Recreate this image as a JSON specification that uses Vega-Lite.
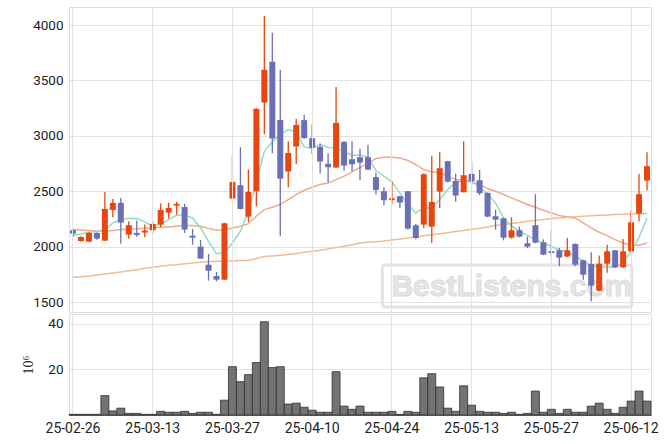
{
  "$schema": "https://vega.github.io/schema/vega-lite/v6.json",
  "background": "white",
  "padding": {"left": 21, "top": 6, "right": 10, "bottom": 5},
  "spacing": 0,
  "config": {
    "view": {"stroke": "#dddddd"},
    "font": "Roboto",
    "axis": {"labelFont": "Roboto", "labelFontSize": 13.5, "labelColor": "#222222", "gridColor": "#e2e2e2", "ticks": false, "domain": false, "labelPadding": 6}
  },
  "datasets": {
    "p": [
      {"d":"25-02-26","o":2148,"h":2160,"l":2087,"c":2118,"v":0.3,"m5":2102,"m20":2154,"m60":1723},
      {"d":"25-02-27","o":2051,"h":2093,"l":2045,"c":2087,"v":0.3,"m5":2115,"m20":2150,"m60":1729},
      {"d":"25-02-28","o":2045,"h":2130,"l":2040,"c":2124,"v":0.3,"m5":2130,"m20":2145,"m60":1735},
      {"d":"25-03-04","o":2124,"h":2130,"l":2063,"c":2072,"v":0.3,"m5":2139,"m20":2139,"m60":1744},
      {"d":"25-03-05","o":2054,"h":2494,"l":2050,"c":2340,"v":8.5,"m5":2148,"m20":2139,"m60":1753},
      {"d":"25-03-06","o":2331,"h":2431,"l":2265,"c":2395,"v":1.8,"m5":2214,"m20":2145,"m60":1762},
      {"d":"25-03-07","o":2395,"h":2440,"l":2027,"c":2217,"v":3.0,"m5":2244,"m20":2154,"m60":1771},
      {"d":"25-03-10","o":2108,"h":2229,"l":2072,"c":2193,"v":0.7,"m5":2253,"m20":2158,"m60":1783},
      {"d":"25-03-11","o":2124,"h":2235,"l":2090,"c":2106,"v":0.7,"m5":2256,"m20":2160,"m60":1792},
      {"d":"25-03-12","o":2127,"h":2199,"l":2084,"c":2145,"v":0.3,"m5":2223,"m20":2165,"m60":1804},
      {"d":"25-03-13","o":2148,"h":2226,"l":2121,"c":2205,"v":0.3,"m5":2184,"m20":2169,"m60":1813},
      {"d":"25-03-14","o":2199,"h":2389,"l":2175,"c":2331,"v":1.6,"m5":2199,"m20":2175,"m60":1822},
      {"d":"25-03-17","o":2307,"h":2395,"l":2253,"c":2349,"v":1.2,"m5":2244,"m20":2178,"m60":1831},
      {"d":"25-03-18","o":2371,"h":2404,"l":2289,"c":2386,"v":1.2,"m5":2283,"m20":2184,"m60":1837},
      {"d":"25-03-19","o":2358,"h":2386,"l":2124,"c":2154,"v":1.6,"m5":2283,"m20":2190,"m60":1846},
      {"d":"25-03-20","o":2099,"h":2160,"l":2018,"c":2081,"v":0.7,"m5":2259,"m20":2190,"m60":1852},
      {"d":"25-03-21","o":2000,"h":2060,"l":1890,"c":1892,"v":1.2,"m5":2169,"m20":2184,"m60":1858},
      {"d":"25-03-24","o":1837,"h":1934,"l":1693,"c":1783,"v":1.2,"m5":2048,"m20":2165,"m60":1864},
      {"d":"25-03-25","o":1735,"h":1771,"l":1687,"c":1702,"v":0.3,"m5":1934,"m20":2148,"m60":1868},
      {"d":"25-03-26","o":1702,"h":2215,"l":1697,"c":2211,"v":6.5,"m5":1952,"m20":2150,"m60":1871},
      {"d":"25-03-27","o":2434,"h":2822,"l":2422,"c":2584,"v":21.2,"m5":2033,"m20":2169,"m60":1871},
      {"d":"25-03-28","o":2554,"h":2898,"l":2335,"c":2340,"v":14.6,"m5":2139,"m20":2184,"m60":1874},
      {"d":"25-03-31","o":2271,"h":2696,"l":2223,"c":2494,"v":17.7,"m5":2319,"m20":2208,"m60":1877},
      {"d":"25-04-01","o":2500,"h":3250,"l":2364,"c":3244,"v":23.0,"m5":2575,"m20":2274,"m60":1892},
      {"d":"25-04-02","o":3301,"h":4081,"l":3015,"c":3596,"v":40.9,"m5":2861,"m20":2334,"m60":1910},
      {"d":"25-04-03","o":3669,"h":3931,"l":2843,"c":2976,"v":20.8,"m5":2946,"m20":2355,"m60":1916},
      {"d":"25-04-04","o":3142,"h":3596,"l":2093,"c":2614,"v":21.2,"m5":3012,"m20":2380,"m60":1922},
      {"d":"25-04-07","o":2678,"h":2952,"l":2536,"c":2846,"v":4.8,"m5":3057,"m20":2425,"m60":1928},
      {"d":"25-04-08","o":2904,"h":3151,"l":2747,"c":3099,"v":5.2,"m5":3033,"m20":2470,"m60":1937},
      {"d":"25-04-09","o":3142,"h":3190,"l":2975,"c":2979,"v":3.4,"m5":2898,"m20":2509,"m60":1949},
      {"d":"25-04-10","o":2979,"h":3105,"l":2837,"c":2892,"v":2.1,"m5":2889,"m20":2536,"m60":1958},
      {"d":"25-04-11","o":2901,"h":2931,"l":2660,"c":2768,"v":1.2,"m5":2922,"m20":2560,"m60":1967},
      {"d":"25-04-14","o":2747,"h":2843,"l":2581,"c":2717,"v":1.2,"m5":2895,"m20":2575,"m60":1979},
      {"d":"25-04-15","o":2714,"h":3440,"l":2710,"c":3117,"v":19.0,"m5":2892,"m20":2605,"m60":1991},
      {"d":"25-04-16","o":2946,"h":2952,"l":2684,"c":2732,"v":3.9,"m5":2856,"m20":2636,"m60":2003},
      {"d":"25-04-17","o":2789,"h":2952,"l":2681,"c":2744,"v":2.5,"m5":2825,"m20":2675,"m60":2018},
      {"d":"25-04-18","o":2807,"h":2883,"l":2599,"c":2759,"v":3.9,"m5":2828,"m20":2714,"m60":2033},
      {"d":"25-04-21","o":2807,"h":2919,"l":2690,"c":2696,"v":1.2,"m5":2807,"m20":2756,"m60":2039},
      {"d":"25-04-22","o":2627,"h":2666,"l":2470,"c":2512,"v":1.2,"m5":2687,"m20":2795,"m60":2045},
      {"d":"25-04-23","o":2500,"h":2536,"l":2374,"c":2419,"v":1.2,"m5":2636,"m20":2807,"m60":2051},
      {"d":"25-04-24","o":2422,"h":2590,"l":2386,"c":2437,"v":1.6,"m5":2584,"m20":2807,"m60":2060},
      {"d":"25-04-25","o":2455,"h":2458,"l":2349,"c":2398,"v":0.3,"m5":2485,"m20":2801,"m60":2069},
      {"d":"25-04-28","o":2500,"h":2503,"l":2154,"c":2163,"v":1.6,"m5":2380,"m20":2777,"m60":2078},
      {"d":"25-04-29","o":2193,"h":2205,"l":2066,"c":2078,"v":1.2,"m5":2304,"m20":2741,"m60":2090},
      {"d":"25-04-30","o":2199,"h":2660,"l":2169,"c":2654,"v":16.3,"m5":2349,"m20":2696,"m60":2099},
      {"d":"25-05-02","o":2181,"h":2819,"l":2033,"c":2404,"v":18.1,"m5":2349,"m20":2675,"m60":2108},
      {"d":"25-05-07","o":2497,"h":2855,"l":2346,"c":2708,"v":12.3,"m5":2425,"m20":2666,"m60":2117},
      {"d":"25-05-08","o":2771,"h":2775,"l":2580,"c":2587,"v":3.0,"m5":2515,"m20":2636,"m60":2126},
      {"d":"25-05-09","o":2593,"h":2657,"l":2407,"c":2461,"v":1.6,"m5":2581,"m20":2605,"m60":2136},
      {"d":"25-05-12","o":2491,"h":2952,"l":2488,"c":2645,"v":12.8,"m5":2596,"m20":2596,"m60":2145},
      {"d":"25-05-13","o":2657,"h":2768,"l":2560,"c":2590,"v":4.3,"m5":2590,"m20":2584,"m60":2157},
      {"d":"25-05-14","o":2599,"h":2693,"l":2464,"c":2482,"v":1.6,"m5":2536,"m20":2560,"m60":2166},
      {"d":"25-05-15","o":2485,"h":2490,"l":2265,"c":2271,"v":1.2,"m5":2470,"m20":2524,"m60":2178},
      {"d":"25-05-16","o":2274,"h":2334,"l":2154,"c":2244,"v":1.2,"m5":2395,"m20":2500,"m60":2190},
      {"d":"25-05-19","o":2256,"h":2259,"l":2057,"c":2081,"v":0.7,"m5":2259,"m20":2470,"m60":2199},
      {"d":"25-05-20","o":2081,"h":2265,"l":2072,"c":2148,"v":1.2,"m5":2187,"m20":2440,"m60":2208},
      {"d":"25-05-21","o":2148,"h":2181,"l":2084,"c":2090,"v":0.3,"m5":2139,"m20":2410,"m60":2217},
      {"d":"25-05-22","o":2030,"h":2090,"l":1988,"c":2000,"v":0.7,"m5":2102,"m20":2380,"m60":2229},
      {"d":"25-05-23","o":2193,"h":2473,"l":2030,"c":2036,"v":10.5,"m5":2063,"m20":2355,"m60":2238},
      {"d":"25-05-26","o":2039,"h":2066,"l":1922,"c":1928,"v":1.2,"m5":2033,"m20":2328,"m60":2244},
      {"d":"25-05-27","o":1958,"h":2148,"l":1904,"c":1943,"v":2.5,"m5":2003,"m20":2304,"m60":2253},
      {"d":"25-05-28","o":1967,"h":1988,"l":1822,"c":1901,"v":0.7,"m5":1967,"m20":2280,"m60":2259},
      {"d":"25-05-29","o":1910,"h":2078,"l":1904,"c":1967,"v":2.5,"m5":1958,"m20":2268,"m60":2265},
      {"d":"25-05-30","o":2024,"h":2030,"l":1822,"c":1837,"v":1.2,"m5":1913,"m20":2259,"m60":2270},
      {"d":"25-06-02","o":1877,"h":1880,"l":1702,"c":1747,"v":1.2,"m5":1874,"m20":2214,"m60":2274},
      {"d":"25-06-04","o":1843,"h":1949,"l":1506,"c":1648,"v":3.9,"m5":1828,"m20":2169,"m60":2279},
      {"d":"25-06-05","o":1602,"h":1919,"l":1598,"c":1846,"v":5.2,"m5":1819,"m20":2130,"m60":2283},
      {"d":"25-06-09","o":1846,"h":2018,"l":1765,"c":1958,"v":2.5,"m5":1816,"m20":2099,"m60":2286},
      {"d":"25-06-10","o":1967,"h":1970,"l":1810,"c":1813,"v":0.7,"m5":1813,"m20":2063,"m60":2289},
      {"d":"25-06-11","o":1813,"h":2069,"l":1810,"c":1958,"v":3.4,"m5":1853,"m20":2033,"m60":2292},
      {"d":"25-06-12","o":1958,"h":2325,"l":1955,"c":2220,"v":6.1,"m5":1958,"m20":2012,"m60":2295},
      {"d":"25-06-13","o":2298,"h":2657,"l":2229,"c":2473,"v":10.5,"m5":2084,"m20":2012,"m60":2297},
      {"d":"25-06-16","o":2596,"h":2852,"l":2506,"c":2726,"v":6.1,"m5":2259,"m20":2033,"m60":2298}
    ],
    "wm": [
      {"d":"25-04-23","d2":"25-06-12","lo":1455,"hi":1834,"mid":1640,"tx":"25-05-20","label":"BestListens.com"}
    ]
  },
  "vconcat": [
    {
      "width": 582,
      "height": 305,
      "data": {"name": "p"},
      "encoding": {
        "x": {
          "field": "d", "type": "ordinal", "sort": "ascending",
          "scale": {"paddingInner": 0, "paddingOuter": 0},
          "axis": {"labels": false, "title": null, "grid": true, "bandPosition": 0.5,
                   "values": ["25-02-26","25-03-13","25-03-27","25-04-10","25-04-24","25-05-13","25-05-27","25-06-12"]}
        }
      },
      "layer": [
        {
          "data": {"name": "wm"},
          "mark": {"type": "rect", "fill": null, "fillOpacity": 0, "stroke": "#e3e3e3", "strokeWidth": 3, "cornerRadius": 3},
          "encoding": {
            "x": {"field": "d", "type": "ordinal", "sort": "ascending", "bandPosition": 0.3},
            "x2": {"field": "d2", "bandPosition": 0.6},
            "y": {"field": "lo", "type": "quantitative"},
            "y2": {"field": "hi"}
          }
        },
        {
          "data": {"name": "wm"},
          "mark": {"type": "text", "font": "Liberation Sans", "fontWeight": "bold", "fontSize": 30, "fill": "#e6e6e6", "stroke": "#dadada", "strokeWidth": 1, "baseline": "middle", "align": "center"},
          "encoding": {
            "x": {"field": "tx", "type": "ordinal", "sort": "ascending"},
            "y": {"field": "mid", "type": "quantitative"},
            "text": {"field": "label"}
          }
        },
        {
          "mark": {"type": "line", "color": "#f1bd8e", "strokeWidth": 1.5},
          "encoding": {
            "y": {"field": "m60", "type": "quantitative",
                  "scale": {"domain": [1410, 4163], "nice": false, "zero": false},
                  "axis": {"title": null, "grid": true, "format": "d", "values": [1500, 2000, 2500, 3000, 3500, 4000]}}
          }
        },
        {
          "mark": {"type": "line", "color": "#eeaa8c", "strokeWidth": 1.5},
          "encoding": {"y": {"field": "m20", "type": "quantitative"}}
        },
        {
          "mark": {"type": "line", "color": "#95dcc0", "strokeWidth": 1.5},
          "encoding": {"y": {"field": "m5", "type": "quantitative"}}
        },
        {
          "mark": {"type": "rule", "strokeWidth": 1.3},
          "encoding": {
            "y": {"field": "l", "type": "quantitative"},
            "y2": {"field": "h"},
            "color": {"condition": {"test": "datum.c > datum.o", "value": "#e8460f"}, "value": "#6b6fb6"}
          }
        },
        {
          "mark": {"type": "bar", "size": 6},
          "encoding": {
            "y": {"field": "o", "type": "quantitative"},
            "y2": {"field": "c"},
            "color": {"condition": {"test": "datum.c > datum.o", "value": "#e8460f"}, "value": "#6b6fb6"}
          }
        }
      ]
    },
    {
      "width": 582,
      "height": 101,
      "data": {"name": "p"},
      "mark": {"type": "bar", "fill": "#737373", "stroke": "#303030", "strokeWidth": 0.8},
      "encoding": {
        "x": {
          "field": "d", "type": "ordinal", "sort": "ascending",
          "scale": {"paddingInner": 0, "paddingOuter": 0},
          "axis": {"title": null, "grid": true, "bandPosition": 0.5, "labelAngle": 0, "labelFontSize": 14, "labelPadding": 6,
                   "domain": true, "domainColor": "#666666",
                   "values": ["25-02-26","25-03-13","25-03-27","25-04-10","25-04-24","25-05-13","25-05-27","25-06-12"]}
        },
        "y": {
          "field": "v", "type": "quantitative",
          "scale": {"domain": [0, 44.3], "nice": false},
          "axis": {"values": [20, 40], "grid": true, "title": "10⁶", "titleFont": "Liberation Serif", "titleFontWeight": "normal", "titleFontSize": 14, "titleColor": "#222222", "titlePadding": 12}
        }
      }
    }
  ]
}
